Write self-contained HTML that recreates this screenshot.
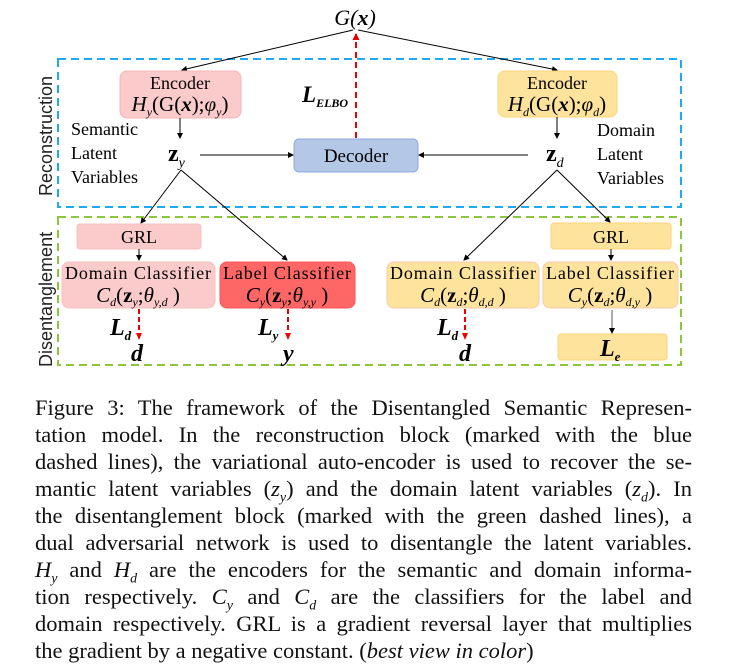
<!DOCTYPE html>
<html><head><meta charset="utf-8"><style>
body{margin:0;background:#fff;width:730px;height:667px;overflow:hidden;position:relative;font-family:"Liberation Serif",serif}
svg{position:absolute;left:0;top:0}
.cap{position:absolute;left:35px;width:657px;font-size:22.5px;line-height:26px;text-align:justify;text-align-last:justify;white-space:nowrap;color:#111}
.cap.last{text-align-last:left}
</style></head><body>
<svg width="730" height="380" viewBox="0 0 730 380" font-family="Liberation Serif, serif">
<defs>
<marker id="a" markerWidth="6" markerHeight="6" refX="5" refY="3" orient="auto" markerUnits="userSpaceOnUse"><path d="M0,0 L6,3 L0,6z" fill="#000"/></marker>
<marker id="r" markerWidth="7" markerHeight="7" refX="6" refY="3.5" orient="auto" markerUnits="userSpaceOnUse"><path d="M0,0 L7,3.5 L0,7z" fill="#e00"/></marker>
</defs>
<rect x="58" y="59" width="623" height="148" fill="none" stroke="#1eaaf1" stroke-width="2" stroke-dasharray="8,5"/>
<rect x="58" y="217" width="623" height="148" fill="none" stroke="#8cc63f" stroke-width="2" stroke-dasharray="8,5"/>
<text transform="translate(52,196) rotate(-90)" font-family="Liberation Sans, sans-serif" font-size="18" fill="#222">Reconstruction</text>
<text transform="translate(52,367) rotate(-90)" font-family="Liberation Sans, sans-serif" font-size="18" fill="#222">Disentanglement</text>
<text x="355" y="25" font-size="22" text-anchor="middle" font-style="italic">G(<tspan font-weight="bold">x</tspan>)</text>
<line x1="353" y1="30" x2="182" y2="70" stroke="#000" marker-end="url(#a)"/>
<line x1="358" y1="30" x2="557" y2="70" stroke="#000" marker-end="url(#a)"/>
<line x1="356" y1="138" x2="356" y2="34" stroke="#e00" stroke-width="2" stroke-dasharray="6,4" marker-end="url(#r)"/>
<text x="302" y="102" font-size="23" font-weight="bold" font-style="italic">L<tspan font-size="12" dy="5">ELBO</tspan></text>
<rect x="120" y="71" width="121" height="47" rx="7" fill="#fbcaca" stroke="#f6b6b6"/>
<text x="180" y="89" font-size="18" text-anchor="middle">Encoder</text>
<text x="180" y="111" font-size="21" text-anchor="middle"><tspan font-style="italic">H</tspan><tspan font-size="12" font-style="italic" dy="5">y</tspan><tspan dy="-5">(G(</tspan><tspan font-weight="bold" font-style="italic">x</tspan>);<tspan font-style="italic">φ</tspan><tspan font-size="12" font-style="italic" dy="5">y</tspan><tspan dy="-5">)</tspan></text>
<rect x="498" y="71" width="119" height="46" rx="7" fill="#fde39b" stroke="#f9d67a"/>
<text x="557" y="89" font-size="18" text-anchor="middle">Encoder</text>
<text x="557" y="111" font-size="21" text-anchor="middle"><tspan font-style="italic">H</tspan><tspan font-size="12" font-style="italic" dy="5">d</tspan><tspan dy="-5">(G(</tspan><tspan font-weight="bold" font-style="italic">x</tspan>);<tspan font-style="italic">φ</tspan><tspan font-size="12" font-style="italic" dy="5">d</tspan><tspan dy="-5">)</tspan></text>
<g font-size="18"><text x="71" y="135">Semantic</text><text x="71" y="159">Latent</text><text x="71" y="183">Variables</text>
<text x="597" y="136">Domain</text><text x="597" y="160">Latent</text><text x="597" y="184">Variables</text></g>
<line x1="180" y1="118" x2="180" y2="138" stroke="#000" marker-end="url(#a)"/>
<line x1="557" y1="117" x2="557" y2="138" stroke="#000" marker-end="url(#a)"/>
<text x="168" y="161" font-size="24" font-weight="bold">z<tspan font-size="14" font-style="italic" font-weight="normal" dy="6">y</tspan></text>
<text x="546" y="161" font-size="24" font-weight="bold">z<tspan font-size="14" font-style="italic" font-weight="normal" dy="6">d</tspan></text>
<rect x="294" y="139" width="124" height="33" rx="5" fill="#b4c7e7" stroke="#8faadc"/>
<text x="356" y="162" font-size="19" text-anchor="middle">Decoder</text>
<line x1="200" y1="155" x2="293" y2="155" stroke="#000" marker-end="url(#a)"/>
<line x1="528" y1="155" x2="419" y2="155" stroke="#000" marker-end="url(#a)"/>
<line x1="181" y1="170" x2="141" y2="223" stroke="#000" marker-end="url(#a)"/>
<line x1="181" y1="170" x2="287" y2="260" stroke="#000" marker-end="url(#a)"/>
<line x1="557" y1="170" x2="464" y2="260" stroke="#000" marker-end="url(#a)"/>
<line x1="557" y1="170" x2="610" y2="222" stroke="#000" marker-end="url(#a)"/>
<rect x="77" y="224" width="124" height="25" rx="3" fill="#fbcaca" stroke="#f6c0c0"/>
<text x="139" y="243" font-size="18" text-anchor="middle">GRL</text>
<rect x="551" y="223" width="120" height="26" rx="3" fill="#fde39b" stroke="#f9d67a"/>
<text x="611" y="243" font-size="18" text-anchor="middle">GRL</text>
<line x1="139" y1="249" x2="139" y2="260" stroke="#000" marker-end="url(#a)"/>
<line x1="611" y1="249" x2="611" y2="260" stroke="#000" marker-end="url(#a)"/>
<rect x="62" y="262" width="153" height="46" rx="7" fill="#fbcaca" stroke="#f6c0c0"/>
<rect x="220" y="262" width="135" height="46" rx="7" fill="#ff6666" stroke="#f55"/>
<rect x="387" y="262" width="152" height="46" rx="7" fill="#fde39b" stroke="#f8c8b0"/>
<rect x="543" y="262" width="135" height="46" rx="7" fill="#fde39b" stroke="#f8c8b0"/>
<g font-size="18" text-anchor="middle"><text x="138" y="279" textLength="146">Domain Classifier</text><text x="287" y="279" textLength="128">Label Classifier</text><text x="463" y="279" textLength="146">Domain Classifier</text><text x="610" y="279" textLength="128">Label Classifier</text></g>
<g font-size="21" text-anchor="middle">
<text x="138" y="302"><tspan font-style="italic">C</tspan><tspan font-size="12" font-style="italic" dy="4">d</tspan><tspan dy="-4">(</tspan><tspan font-weight="bold">z</tspan><tspan font-size="12" font-style="italic" dy="4">y</tspan><tspan dy="-4">;</tspan><tspan font-style="italic">θ</tspan><tspan font-size="12" font-style="italic" dy="4">y,d</tspan><tspan dy="-4"> )</tspan></text>
<text x="287" y="302"><tspan font-style="italic">C</tspan><tspan font-size="12" font-style="italic" dy="4">y</tspan><tspan dy="-4">(</tspan><tspan font-weight="bold">z</tspan><tspan font-size="12" font-style="italic" dy="4">y</tspan><tspan dy="-4">;</tspan><tspan font-style="italic">θ</tspan><tspan font-size="12" font-style="italic" dy="4">y,y</tspan><tspan dy="-4"> )</tspan></text>
<text x="463" y="302"><tspan font-style="italic">C</tspan><tspan font-size="12" font-style="italic" dy="4">d</tspan><tspan dy="-4">(</tspan><tspan font-weight="bold">z</tspan><tspan font-size="12" font-style="italic" dy="4">d</tspan><tspan dy="-4">;</tspan><tspan font-style="italic">θ</tspan><tspan font-size="12" font-style="italic" dy="4">d,d</tspan><tspan dy="-4"> )</tspan></text>
<text x="610" y="302"><tspan font-style="italic">C</tspan><tspan font-size="12" font-style="italic" dy="4">y</tspan><tspan dy="-4">(</tspan><tspan font-weight="bold">z</tspan><tspan font-size="12" font-style="italic" dy="4">d</tspan><tspan dy="-4">;</tspan><tspan font-style="italic">θ</tspan><tspan font-size="12" font-style="italic" dy="4">d,y</tspan><tspan dy="-4"> )</tspan></text>
</g>
<g stroke="#e00" stroke-width="2" stroke-dasharray="5,3"><line x1="139" y1="309" x2="139" y2="333"/><line x1="288" y1="309" x2="288" y2="333"/><line x1="465" y1="309" x2="465" y2="333"/></g>
<g fill="#e00"><path d="M136,333 L142,333 L139,340z"/><path d="M285,333 L291,333 L288,340z"/><path d="M462,333 L468,333 L465,340z"/></g>
<line x1="612" y1="310" x2="612" y2="333" stroke="#555" marker-end="url(#a)"/>
<rect x="558" y="334" width="109" height="26" rx="3" fill="#fde39b" stroke="#f9d67a"/>
<g font-size="24" font-weight="bold" font-style="italic">
<text x="110" y="335">L<tspan font-size="13" dy="5">d</tspan></text>
<text x="258" y="335">L<tspan font-size="13" dy="5">y</tspan></text>
<text x="437" y="335">L<tspan font-size="13" dy="5">d</tspan></text>
<text x="600" y="356">L<tspan font-size="13" dy="5">e</tspan></text>
<text x="131" y="361">d</text><text x="283" y="361">y</text><text x="459" y="361">d</text>
</g>
</svg>
<div class="cap" style="top:395px">Figure 3: The framework of the Disentangled Semantic Represen-</div>
<div class="cap" style="top:422px">tation model. In the reconstruction block (marked with the blue</div>
<div class="cap" style="top:449px">dashed lines), the variational auto-encoder is used to recover the se-</div>
<div class="cap" style="top:476px">mantic latent variables (<i>z<sub style="font-size:14px">y</sub></i>) and the domain latent variables (<i>z<sub style="font-size:14px">d</sub></i>). In</div>
<div class="cap" style="top:503px">the disentanglement block (marked with the green dashed lines), a</div>
<div class="cap" style="top:530px">dual adversarial network is used to disentangle the latent variables.</div>
<div class="cap" style="top:557px"><i>H<sub style="font-size:14px">y</sub></i> and <i>H<sub style="font-size:14px">d</sub></i> are the encoders for the semantic and domain informa-</div>
<div class="cap" style="top:584px">tion respectively. <i>C<sub style="font-size:14px">y</sub></i> and <i>C<sub style="font-size:14px">d</sub></i> are the classifiers for the label and</div>
<div class="cap" style="top:611px">domain respectively. GRL is a gradient reversal layer that multiplies</div>
<div class="cap last" style="top:638px">the gradient by a negative constant. (<i>best view in color</i>)</div>
</body></html>
